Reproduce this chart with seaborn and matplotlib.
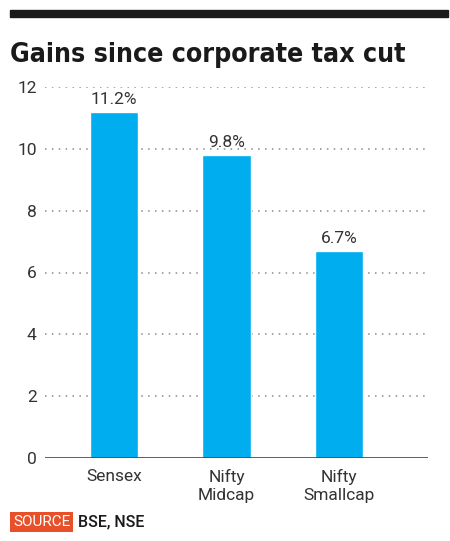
import matplotlib
matplotlib.use("Agg")
import matplotlib.pyplot as plt
import seaborn as sns
from matplotlib.patches import Rectangle

categories = ["Sensex", "Nifty\nMidcap", "Nifty\nSmallcap"]
gains = [11.2, 9.8, 6.7]
labels = ["11.2%", "9.8%", "6.7%"]
yticks = [0, 2, 4, 6, 8, 10, 12]

sns.set_style("white")
plt.rcParams["font.family"] = ["Roboto", "DejaVu Sans"]

fig = plt.figure(figsize=(4.5, 5.41), dpi=100)
ax = fig.add_axes([45 / 450, 1 - 458 / 541, 383 / 450, 371 / 541])

sns.barplot(x=categories, y=gains, color="#00AEEF", width=0.43,
            saturation=1, ax=ax, zorder=3)
ax.set_xlim(-0.613, 2.79)
ax.set_ylim(0, 12)
ax.set_yticks(yticks)
ax.set_yticklabels([str(t) for t in yticks], fontsize=12.5, color="#333333")
ax.tick_params(axis="y", length=0, pad=6)
ax.tick_params(axis="x", length=0, pad=8, labelsize=12.5, labelcolor="#333333")
for lab in ax.get_xticklabels():
    lab.set_linespacing(1.2)
ax.set_xlabel("")
ax.set_ylabel("")

for y in yticks[1:]:
    ax.axhline(y, color="#8a8a8a", linestyle=(0, (1, 3.5)), linewidth=1.1, zorder=1)
ax.axhline(0, color="#444444", linewidth=1.2, zorder=4)

for s in ax.spines.values():
    s.set_visible(False)

for i, (v, t) in enumerate(zip(gains, labels)):
    ax.text(i, v + 0.15, t, ha="center", va="bottom", fontsize=12.5,
            color="#333333")

# top rule
fig.patches.append(Rectangle((10 / 450, 1 - 17 / 541), 438 / 450, 7 / 541,
                             transform=fig.transFigure, color="#1a1a1a", zorder=5))

fig.text(10 / 450, 1 - 62 / 541, "Gains since corporate tax cut",
         fontsize=19.2, fontweight="bold", color="#1a1a1a",
         family=["DejaVu Sans"], fontstretch="condensed")

fig.text(13 / 450, 1 - 522 / 541, "SOURCE", fontsize=11, color="white",
         va="center", ha="left",
         bbox=dict(boxstyle="square,pad=0.18", fc="#E8502A", ec="none"))
fig.text(78 / 450, 1 - 522 / 541, "BSE, NSE", fontsize=11.5, color="#1a1a1a",
         va="center", ha="left", fontweight="medium")

fig.savefig("out.png", dpi=100)
